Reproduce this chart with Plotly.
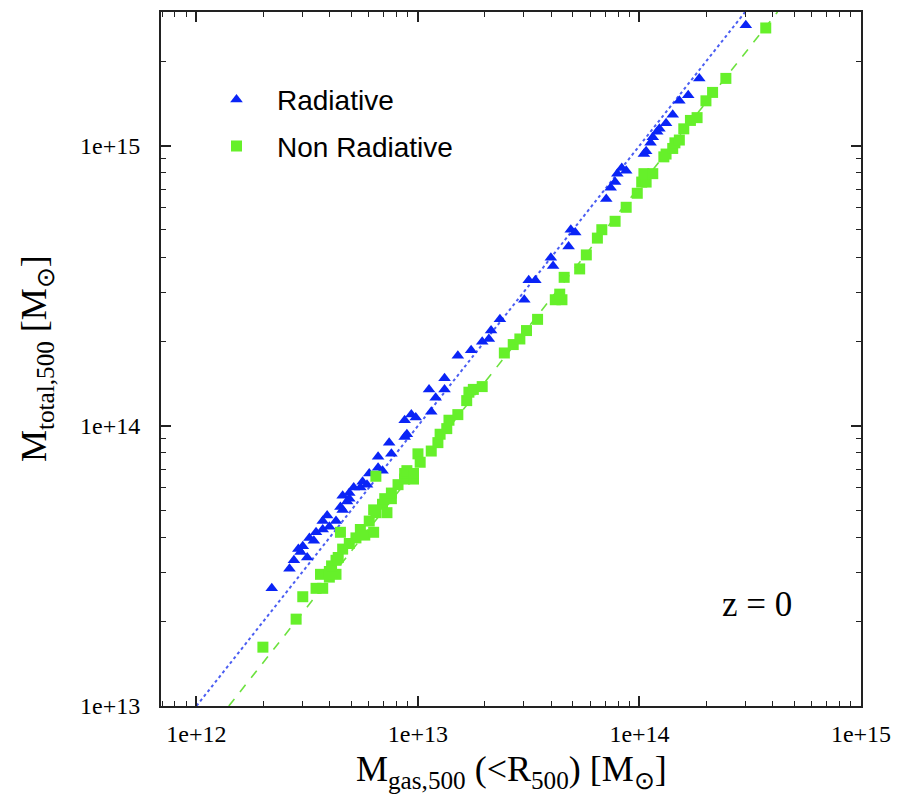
import plotly.graph_objects as go

# log10 of masses
rad_log_mgas = [12.34, 12.42, 12.44, 12.47, 12.50, 12.51, 12.54, 12.57, 12.59, 12.60,
                12.65, 12.66, 12.66, 12.69, 12.69, 12.71, 12.75, 12.77, 12.74, 12.78,
                12.82, 12.84, 12.87, 12.88, 12.94, 12.94, 12.97, 12.99, 13.06, 13.05,
                13.08, 13.12, 13.12, 13.18, 13.24, 13.29, 13.32, 13.33, 13.37, 13.48,
                13.50, 13.53, 13.60, 13.61, 13.68, 13.69, 13.71, 13.85, 13.87, 13.89,
                13.90, 13.92, 13.94, 14.03, 14.05, 14.06, 14.08, 14.09, 14.12, 14.15,
                14.18, 14.22, 14.27, 14.48, 14.02, 12.95, 12.82, 12.46, 12.53, 12.48,
                12.63, 12.57, 12.68]
rad_log_mtot = [13.42, 13.49, 13.52, 13.55, 13.53, 13.60, 13.62, 13.63, 13.68, 13.64,
                13.71, 13.70, 13.75, 13.76, 13.74, 13.78, 13.80, 13.79, 13.78, 13.83,
                13.89, 13.84, 13.94, 13.90, 13.96, 14.02, 14.04, 14.03, 14.05, 14.13,
                14.10, 14.13, 14.17, 14.25, 14.27, 14.30, 14.31, 14.34, 14.38, 14.45,
                14.52, 14.52, 14.60, 14.57, 14.64, 14.70, 14.69, 14.81, 14.85, 14.87,
                14.90, 14.92, 14.91, 14.98, 15.01, 15.03, 15.05, 15.06, 15.08, 15.11,
                15.16, 15.18, 15.24, 15.43, 14.97, 13.97, 13.85, 13.56, 13.59, 13.57,
                13.66, 13.66, 13.73]

nonrad_log_mgas = [12.30, 12.45, 12.48, 12.54, 12.57, 12.56, 12.60, 12.60, 12.63, 12.61,
                   12.63, 12.64, 12.65, 12.66, 12.69, 12.72, 12.74, 12.76, 12.80, 12.78,
                   12.81, 12.80, 12.84, 12.86, 12.85, 12.88, 12.88, 12.91, 12.94, 12.94,
                   12.95, 12.98, 12.98, 12.81, 13.00, 13.01, 13.06, 13.09, 13.10, 13.13,
                   13.14, 13.18, 13.22, 13.23, 13.25, 13.29, 13.39, 13.43, 13.46, 13.49,
                   13.54, 13.62, 13.65, 13.64, 13.66, 13.73, 13.76, 13.81, 13.83, 13.89,
                   13.94, 13.99, 14.01, 14.03, 14.02, 14.06, 14.11, 14.12, 14.15, 14.16,
                   14.18, 14.20, 14.23, 14.26, 14.30, 14.33, 14.39, 14.57]
nonrad_log_mtot = [13.21, 13.31, 13.39, 13.42, 13.42, 13.47, 13.46, 13.48, 13.47, 13.50,
                   13.52, 13.53, 13.62, 13.56, 13.58, 13.60, 13.63, 13.61, 13.62, 13.66,
                   13.69, 13.70, 13.72, 13.69, 13.74, 13.74, 13.76, 13.79, 13.81, 13.83,
                   13.84, 13.81, 13.83, 13.82, 13.90, 13.87, 13.91, 13.94, 13.97, 13.99,
                   14.02, 14.04, 14.09, 14.12, 14.13, 14.14, 14.26, 14.29, 14.31, 14.34,
                   14.38, 14.45, 14.45, 14.47, 14.53, 14.56, 14.61, 14.67, 14.70, 14.73,
                   14.78, 14.83, 14.87, 14.87, 14.90, 14.90, 14.96, 14.97, 14.99, 15.01,
                   15.02, 15.06, 15.09, 15.10, 15.16, 15.19, 15.24, 15.42]

# reference relations (end points)
rad_line_mgas = [1.0e12, 3.0e14]
rad_line_mtot = [1.0e13, 3.0e15]
nonrad_line_mgas = [1.4e12, 4.2e14]
nonrad_line_mtot = [1.0e13, 3.0e15]

x_tickvals = [1e12, 1e13, 1e14, 1e15]
x_ticktext = ["1e+12", "1e+13", "1e+14", "1e+15"]
y_tickvals = [1e13, 1e14, 1e15]
y_ticktext = ["1e+13", "1e+14", "1e+15"]
minor_mult = [2, 3, 4, 5, 6, 7, 8, 9]

BLUE = "#0a24f6"
GREEN = "#66f02a"

fig = go.Figure()
fig.add_trace(go.Scatter(x=rad_line_mgas, y=rad_line_mtot, mode="lines",
                         line=dict(color="#4b5ef2", width=2, dash="dot"),
                         showlegend=False, hoverinfo="skip"))
fig.add_trace(go.Scatter(x=nonrad_line_mgas, y=nonrad_line_mtot, mode="lines",
                         line=dict(color="#6ce23e", width=1.6, dash="dash"),
                         showlegend=False, hoverinfo="skip"))
fig.add_trace(go.Scatter(x=[10 ** v for v in rad_log_mgas], y=[10 ** v for v in rad_log_mtot],
                         mode="markers", name="Radiative", legendgroup="a",
                         marker=dict(symbol="triangle-up", size=11, color=BLUE, line=dict(width=0))))
fig.add_trace(go.Scatter(x=[10 ** v for v in nonrad_log_mgas], y=[10 ** v for v in nonrad_log_mtot],
                         mode="markers", name="Non Radiative", legendgroup="b",
                         marker=dict(symbol="square", size=11, color=GREEN, line=dict(width=0))))

def minor_vals(decades):
    return [m * 10 ** d for d in decades for m in minor_mult]

axis_common = dict(type="log", showgrid=False, zeroline=False, showline=True,
                   linecolor="#222", linewidth=2, mirror="ticks", ticks="inside",
                   ticklen=10, tickwidth=1.5, tickcolor="#222",
                   tickfont=dict(family="Liberation Serif", size=24, color="black"))

fig.update_xaxes(range=[11.84, 15.0], tickmode="array", tickvals=x_tickvals, ticktext=x_ticktext,
                 minor=dict(tickmode="array", tickvals=minor_vals([11, 12, 13, 14]), ticks="inside",
                            ticklen=5, tickwidth=1.2, tickcolor="#222", showgrid=False),
                 ticklabelstandoff=5, **axis_common)
fig.update_yaxes(range=[13.0, 15.477], tickmode="array", tickvals=y_tickvals, ticktext=y_ticktext,
                 minor=dict(tickmode="array", tickvals=minor_vals([13, 14, 15]), ticks="inside",
                            ticklen=5, tickwidth=1.2, tickcolor="#222", showgrid=False),
                 ticklabelstandoff=14, **axis_common)

fig.add_annotation(text="M<sub>gas,500</sub> (&lt;R<sub>500</sub>) [M<sub>⊙</sub>]",
                   xref="paper", yref="paper", x=0.5, y=0, yanchor="top", yshift=-41,
                   showarrow=False, font=dict(family="Liberation Serif", size=36, color="black"))
fig.add_annotation(text="M<sub>total,500</sub> [M<sub>⊙</sub>]", textangle=-90,
                   xref="paper", yref="paper", x=0, y=0.5, xanchor="center", yanchor="middle",
                   xshift=-125, showarrow=False,
                   font=dict(family="Liberation Serif", size=36, color="black"))
fig.add_annotation(text="z = 0", xref="paper", yref="paper", x=(757 - 161) / 700, y=(706 - 604) / 696,
                   xanchor="center", yanchor="middle", showarrow=False,
                   font=dict(family="Liberation Serif", size=35, color="black"))

fig.update_layout(
    width=901, height=798,
    margin=dict(l=161, r=40, t=10, b=92),
    paper_bgcolor="white", plot_bgcolor="white",
    showlegend=True,
    legend=dict(x=(196 - 161) / 700, y=(706 - 73) / 696, xanchor="left", yanchor="top",
                bgcolor="rgba(0,0,0,0)", font=dict(family="Liberation Sans", size=28, color="black"),
                traceorder="grouped", tracegroupgap=7, itemwidth=71),
)

fig.write_html("out.html")
